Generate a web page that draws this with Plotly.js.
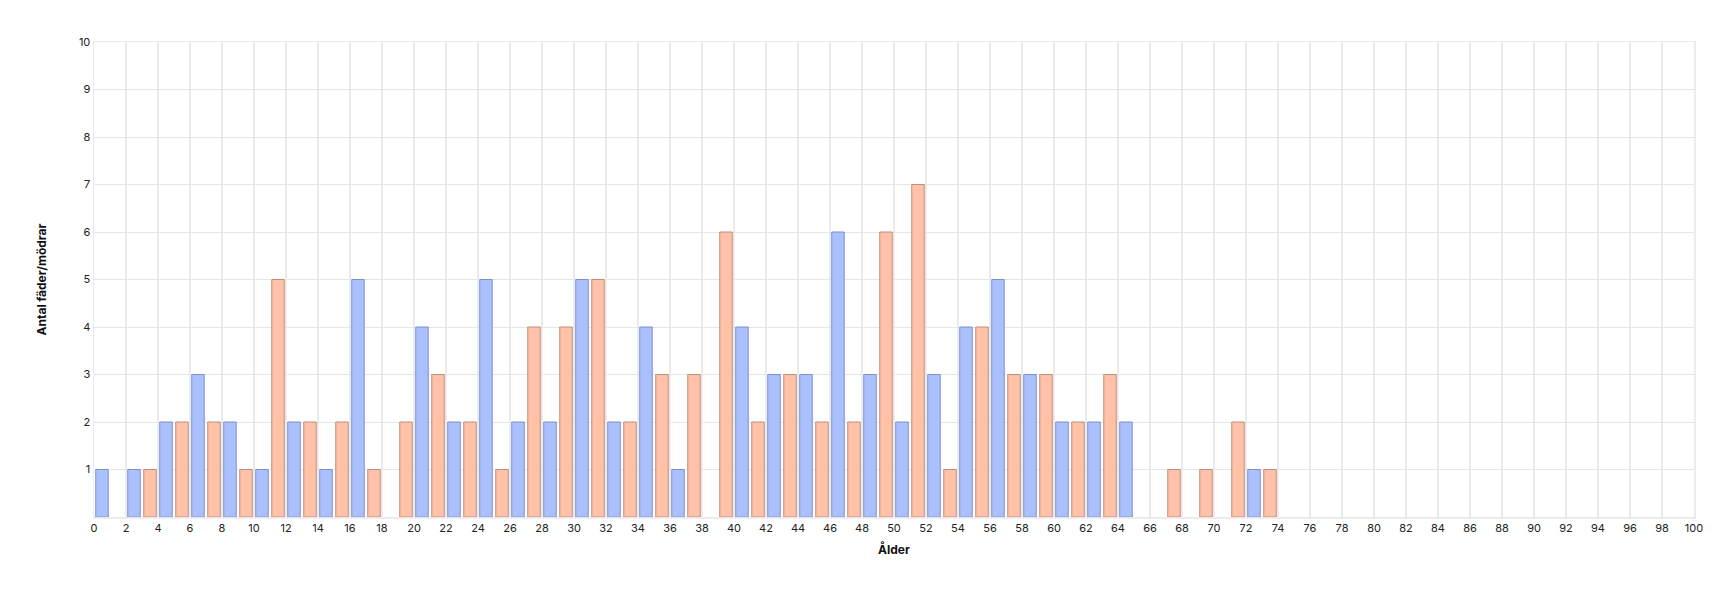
<!DOCTYPE html>
<html>
<head>
<meta charset="utf-8">
<script src="https://cdn.plot.ly/plotly-3.0.1.min.js"></script>
<style>html,body{margin:0;padding:0;background:#fff;}#chart{width:1734px;height:594px;}</style>
</head>
<body>
<div id="chart"></div>
<script>
// Blue series (even ages)
const blueAges   = [0, 2, 4, 6, 8, 10, 12, 14, 16, 20, 22, 24, 26, 28, 30, 32, 34, 36, 40, 42, 44, 46, 48, 50, 52, 54, 56, 58, 60, 62, 64, 72];
const blueValues = [1, 1, 2, 3, 2, 1, 2, 1, 5, 4, 2, 5, 2, 2, 5, 2, 4, 1, 4, 3, 3, 6, 3, 2, 3, 4, 5, 3, 2, 2, 2, 1];
// Salmon series (odd ages)
const salmonAges   = [3, 5, 7, 9, 11, 13, 15, 17, 19, 21, 23, 25, 27, 29, 31, 33, 35, 37, 39, 41, 43, 45, 47, 49, 51, 53, 55, 57, 59, 61, 63, 67, 69, 71, 73];
const salmonValues = [1, 2, 2, 1, 5, 2, 2, 1, 2, 3, 2, 1, 4, 4, 5, 2, 3, 3, 6, 2, 3, 2, 2, 6, 7, 1, 4, 3, 3, 2, 3, 1, 1, 2, 1];
const xTicks = [];
for (let v = 0; v <= 100; v += 2) xTicks.push(v);
const yTicks = [1, 2, 3, 4, 5, 6, 7, 8, 9, 10];

const traces = [
  {type: 'bar', x: blueAges, y: blueValues, width: 0.78, offset: 0.11,
   marker: {color: '#aac1fd', line: {color: '#7890cc', width: 1}}, name: 'fäder', hoverinfo: 'x+y'},
  {type: 'bar', x: salmonAges, y: salmonValues, width: 0.78, offset: 0.11,
   marker: {color: '#ffc2a8', line: {color: '#c08c7c', width: 1}}, name: 'mödrar', hoverinfo: 'x+y'}
];

const layout = {
  width: 1734, height: 594,
  margin: {l: 94, r: 40, t: 42, b: 77},
  paper_bgcolor: '#fff', plot_bgcolor: '#fff',
  showlegend: false,
  barmode: 'overlay',
  font: {family: 'Inter, Roboto, sans-serif', size: 11, color: '#222'},
  xaxis: {
    range: [0, 100], tickvals: xTicks, ticktext: xTicks.map(String),
    showgrid: true, gridcolor: '#ebebeb', gridwidth: 1.5,
    showline: true, linecolor: '#ebebeb', linewidth: 1.5, mirror: true,
    zeroline: false, ticks: '', ticklen: 0, tickfont: {size: 11, color: '#222'},
    title: {text: 'Ålder', font: {size: 12, color: '#111', family: 'Inter, Roboto, sans-serif', weight: 'bold'}, standoff: 12}
  },
  yaxis: {
    range: [0, 10], tickvals: yTicks, ticktext: yTicks.map(String),
    showgrid: true, gridcolor: '#e6e6e6', gridwidth: 1,
    showline: true, linecolor: '#ebebeb', linewidth: 1.5, mirror: true,
    zeroline: false, ticks: '', tickfont: {size: 11, color: '#222'},
    title: {text: 'Antal fäder/mödrar', font: {size: 12, color: '#111', family: 'Inter, Roboto, sans-serif', weight: 'bold'}, standoff: 29}
  }
};

Plotly.newPlot('chart', traces, layout, {displayModeBar: false, staticPlot: true});
</script>
</body>
</html>
